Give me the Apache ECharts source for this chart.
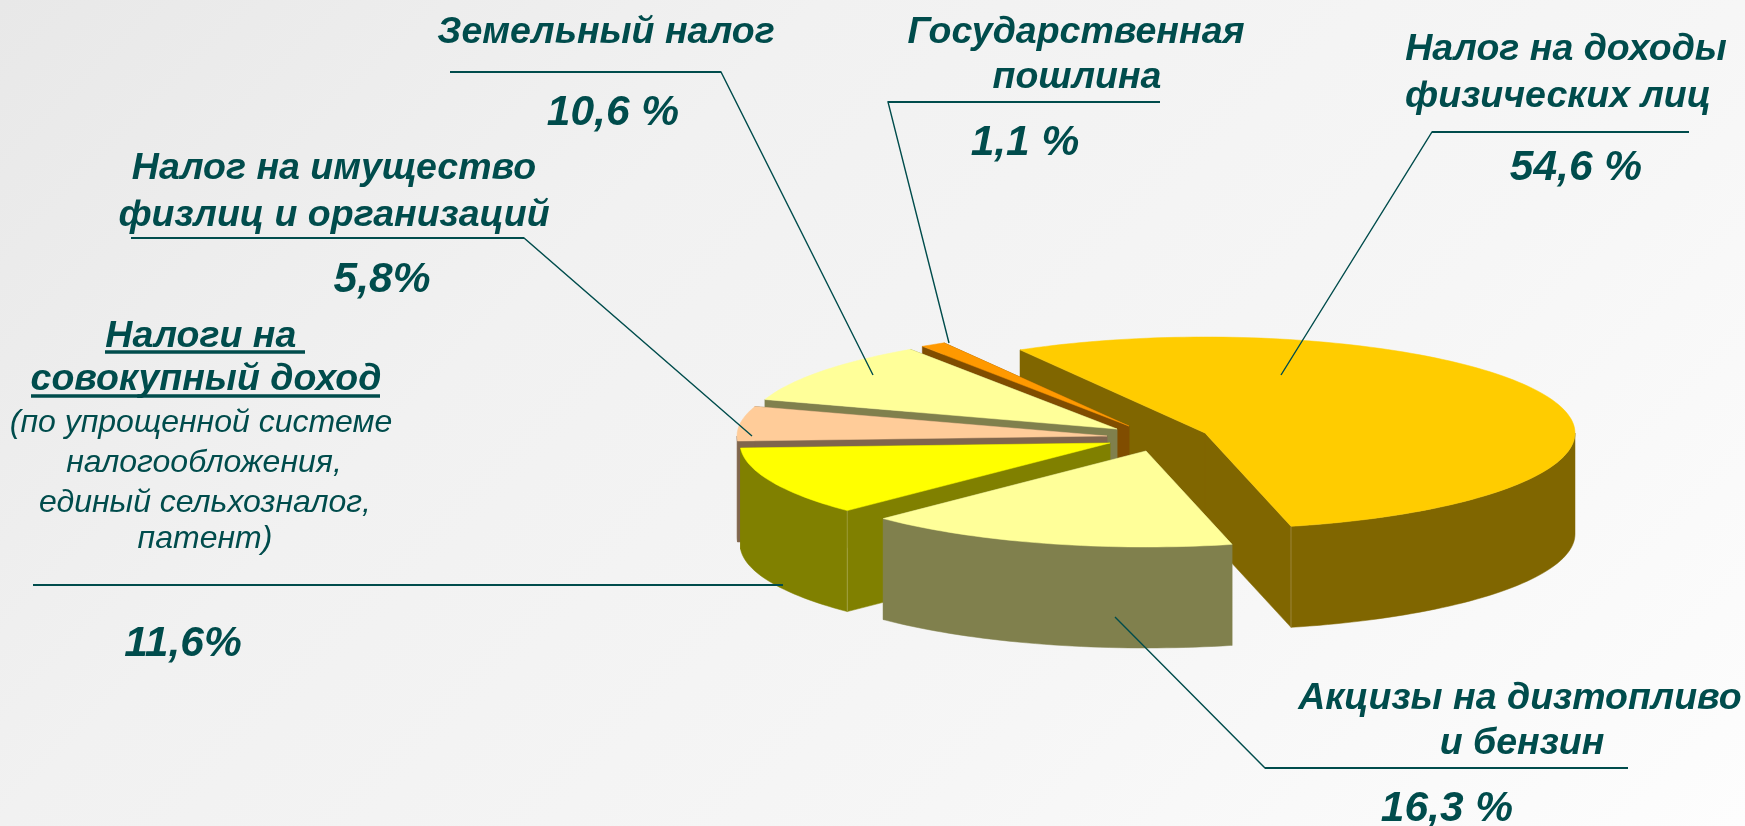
<!DOCTYPE html>
<html>
<head>
<meta charset="utf-8">
<style>html,body{margin:0;padding:0;width:100%;height:100%;overflow:hidden}#c{width:1745px;height:826px}</style>
<script src="https://cdn.jsdelivr.net/npm/echarts@6/dist/echarts.min.js"></script>
</head>
<body>
<div id="c"></div>
<script>
const categories = ['Налог на доходы физических лиц','Акцизы на дизтопливо и бензин','Налоги на совокупный доход','Налог на имущество физлиц и организаций','Земельный налог','Государственная пошлина'];
const values = [54.6, 16.3, 11.6, 5.8, 10.6, 1.1];
const valueLabels = ['54,6 %','16,3 %','11,6%','5,8%','10,6 %','1,1 %'];
const topColors = ['#FFCC00','#FFFF99','#FFFF00','#FFCC99','#FFFF99','#FF9900'];
const wallColors = ['#806600','#80804D','#808000','#80664D','#80804D','#804D00'];
const apexes = [[1205,433],[1146,451],[1110,443],[1107,436],[1117,429],[1129,426]];
const drawOrder = [0,5,4,3,2,1];
const pieStart = -30, RX = 370, RY = 96, DEPTH = 101;
const INK = '#004C4C';

const total = values.reduce((a,b)=>a+b,0);
const sliceAngles = [];
values.reduce((acc,v,i)=>{const e=acc+v/total*360; sliceAngles[i]=[acc,e]; return e;}, pieStart);

function pt(c,deg,dy){const r=deg*Math.PI/180; return [c[0]+RX*Math.sin(r), c[1]-RY*Math.cos(r)+(dy||0)];}
function arc(c,a,b,dy){const n=Math.max(2,Math.ceil(Math.abs(b-a)/1.5)),o=[];for(let k=0;k<=n;k++)o.push(pt(c,a+(b-a)*k/n,dy));return o;}

function renderSlice(params){
  const i = drawOrder[params.dataIndex], c = apexes[i], [a,b] = sliceAngles[i];
  const fill = wallColors[i], kids = [];
  const poly = (points,color)=>kids.push({type:'polygon',shape:{points},style:{fill:color,stroke:color,lineWidth:0.5}});
  [a,b].forEach(t=>{const p=pt(c,t);poly([c,p,[p[0],p[1]+DEPTH],[c[0],c[1]+DEPTH]],fill);});
  const fa=Math.max(a,90), fb=Math.min(b,270);
  if(fb>fa) poly(arc(c,fa,fb,0).concat(arc(c,fb,fa,DEPTH)),fill);
  /* faint highlight on the near vertical edge where a radial wall meets the rim */
  if(a<90 && b>90 && b<270){const p=pt(c,b);kids.push({type:'polyline',shape:{points:[p,[p[0],p[1]+DEPTH]]},style:{stroke:'rgba(255,255,255,0.22)',lineWidth:1,fill:null}});}
  if(a>180 && a<270 && b<270){const p=pt(c,a);kids.push({type:'polyline',shape:{points:[p,[p[0],p[1]+DEPTH]]},style:{stroke:'rgba(255,255,255,0.22)',lineWidth:1,fill:null}});}
  poly([c].concat(arc(c,a,b,0)),topColors[i]);
  return {type:'group',children:kids};
}

/* annotation layout: leader polylines, text */
const leaders = [
  [[1689,132],[1432,132],[1281,375]],
  [[1628,768],[1265,768],[1115,617]],
  [[33,585],[783,585]],
  [[131,238],[524,238],[752,436]],
  [[450,72],[721,72],[873,375]],
  [[1160,102],[888,102],[949,343]]
];
const BIG='italic bold 37.5px "Liberation Sans"', PCT='italic bold 42.5px "Liberation Sans"', SMALL='italic 32px "Liberation Sans"';
const texts = [
  ['Налог на доходы',1566,50,BIG],['физических лиц',1558,97,BIG],[valueLabels[0],1576,168,PCT],
  ['Акцизы на дизтопливо',1520,699,BIG],['и бензин',1522,744,BIG],[valueLabels[1],1447,809,PCT],
  ['Налоги на ',206,337,BIG],['совокупный доход',206,380,BIG],
  ['(по упрощенной системе',201,423,SMALL],['налогообложения,',204,463,SMALL],['единый сельхозналог,',205,503,SMALL],['патент)',205,539,SMALL],
  [valueLabels[2],183,644,PCT],
  ['Налог на имущество',334,169,BIG],['физлиц и организаций',334,216,BIG],[valueLabels[3],382,280,PCT],
  ['Земельный налог',606,33,BIG],[valueLabels[4],613,113,PCT],
  ['Государственная',1076,33,BIG],['пошлина',1077,78,BIG],[valueLabels[5],1025,143,PCT]
];
const underlines = [[[105,352],[305,352]],[[31,396],[380,396]]];

const graphic = [];
leaders.forEach(points=>{
  graphic.push({type:'polyline',z:10,shape:{points},style:{stroke:INK,lineWidth:1.4,fill:null}});
  graphic.push({type:'polyline',z:10,shape:{points:points.slice(0,2)},style:{stroke:INK,lineWidth:2,fill:null}});
});
underlines.forEach(points=>graphic.push({type:'polyline',z:10,shape:{points},style:{stroke:INK,lineWidth:3.5,fill:null}}));
texts.forEach(t=>graphic.push({type:'text',z:10,x:t[1],y:t[2],style:{text:t[0],font:t[3],fill:INK,align:'center',verticalAlign:'middle'}}));

const chart = echarts.init(document.getElementById('c'),null,{renderer:'canvas'});
chart.setOption({
  animation:false,
  backgroundColor:{type:'linear',x:0,y:0,x2:1285,y2:1285,global:true,colorStops:[{offset:0,color:'#E8E8E8'},{offset:0.32,color:'#F1F1F1'},{offset:0.68,color:'#F6F6F6'},{offset:1,color:'#FDFDFD'}]},
  series:[{type:'custom',coordinateSystem:'none',silent:true,renderItem:renderSlice,
    data:drawOrder.map(i=>({name:categories[i],value:values[i]}))}],
  graphic
});
</script>
</body>
</html>
